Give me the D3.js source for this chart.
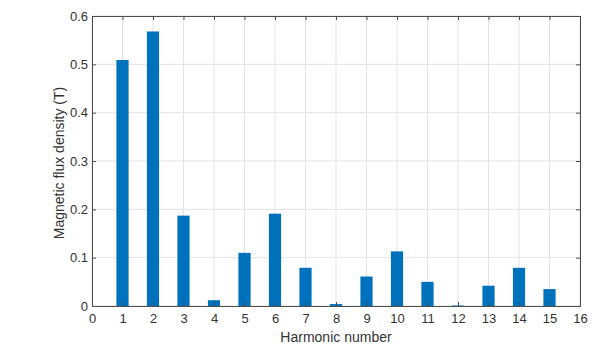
<!DOCTYPE html>
<html>
<head>
<meta charset="utf-8">
<script src="https://cdn.jsdelivr.net/npm/d3@7"></script>
<style>
  body { margin: 0; background: #fff; }
  svg text { font-family: "Liberation Sans", Arial, sans-serif; }
</style>
</head>
<body>
<div id="chart"></div>
<script>
// harmonic spectrum data
const harmonics = [1, 2, 3, 4, 5, 6, 7, 8, 9, 10, 11, 12, 13, 14, 15];
const fluxDensity = [0.509, 0.568, 0.187, 0.012, 0.110, 0.191, 0.079, 0.004, 0.061, 0.113, 0.050, 0.001, 0.042, 0.079, 0.035];
const xTicks = d3.range(0, 17);
const yTicks = [0, 0.1, 0.2, 0.3, 0.4, 0.5, 0.6];

const size = {width: 600, height: 347};
const margin = {top: 16, right: 20, bottom: 41, left: 92};
const width = size.width - margin.left - margin.right;
const height = size.height - margin.top - margin.bottom;

const svg = d3.select("#chart").append("svg")
    .attr("width", size.width)
    .attr("height", size.height)
    .append("g")
    .attr("transform", "translate(" + margin.left + "," + margin.top + ")");

const xScale = d3.scaleLinear().domain([0, 16]).range([0, width]);
const yScale = d3.scaleLinear().domain([0, 0.6]).range([height, 0]);

// grid lines
svg.append("g").selectAll("line.vgrid")
    .data(xTicks)
    .join("line")
    .attr("x1", d => xScale(d)).attr("x2", d => xScale(d))
    .attr("y1", 0).attr("y2", height)
    .attr("stroke", "#e3e3e3").attr("stroke-width", 1);
svg.append("g").selectAll("line.hgrid")
    .data(yTicks)
    .join("line")
    .attr("x1", 0).attr("x2", width)
    .attr("y1", d => yScale(d)).attr("y2", d => yScale(d))
    .attr("stroke", "#e3e3e3").attr("stroke-width", 1);

// bars
const barW = xScale(0.4) - xScale(0);
svg.selectAll(".bar")
    .data(harmonics)
    .join("rect")
    .attr("class", "bar")
    .attr("x", (d) => xScale(d) - barW / 2)
    .attr("width", barW)
    .attr("y", (d, i) => yScale(fluxDensity[i]))
    .attr("height", (d, i) => yScale(0) - yScale(fluxDensity[i]))
    .attr("fill", "#0072bd");

// axes, ticks pointing inward like matlab
const axisColor = "#4d4d4d";
const xAxis = svg.append("g")
    .attr("transform", "translate(0," + height + ")")
    .call(d3.axisBottom(xScale).tickValues(xTicks).tickSize(-4).tickPadding(8).tickFormat(d3.format("d")));
const xTop = svg.append("g")
    .call(d3.axisTop(xScale).tickValues(xTicks).tickSize(-4).tickFormat(""));
const yAxis = svg.append("g")
    .call(d3.axisLeft(yScale).tickValues(yTicks).tickSize(-4).tickPadding(4).tickFormat(d => d === 0 ? "0" : d3.format(".1f")(d)));
const yRight = svg.append("g")
    .attr("transform", "translate(" + width + ",0)")
    .call(d3.axisRight(yScale).tickValues(yTicks).tickSize(-4).tickFormat(""));

[xAxis, xTop, yAxis, yRight].forEach(g => {
    g.select(".domain").attr("stroke", axisColor);
    g.selectAll(".tick line").attr("stroke", axisColor);
    g.selectAll(".tick text").attr("fill", "#333").style("font-size", "13px");
});

// axis labels
svg.append("text")
    .attr("x", width / 2)
    .attr("y", height + 36)
    .attr("text-anchor", "middle")
    .attr("fill", "#333")
    .style("font-size", "14px")
    .text("Harmonic number");

svg.append("text")
    .attr("transform", "translate(-28," + (height / 2 + 2) + ") rotate(-90)")
    .attr("text-anchor", "middle")
    .attr("fill", "#333")
    .style("font-size", "14px")
    .text("Magnetic flux density (T)");
</script>
</body>
</html>
